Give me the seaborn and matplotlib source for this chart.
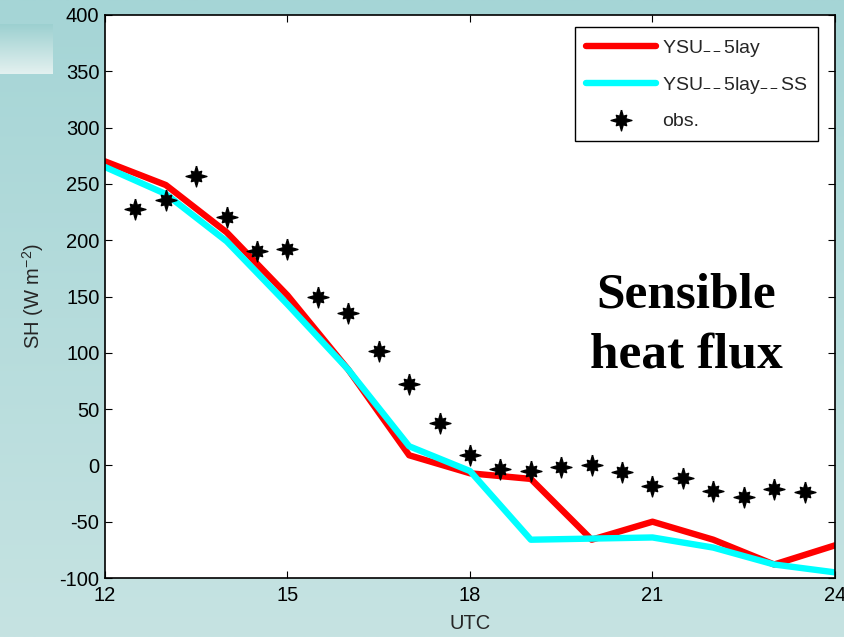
import numpy as np
import pandas as pd
import matplotlib
matplotlib.use("Agg")
import matplotlib.pyplot as plt
import seaborn as sns

# Model output (hourly) and observations (half-hourly), sensible heat flux in W m-2
model_hours = [12, 13, 14, 15, 16, 17, 18, 19, 20, 21, 22, 23, 24]
ysu_5lay = [270, 249, 207, 151, 85, 9, -7, -12, -66, -50, -66, -88, -71]
ysu_5lay_ss = [265, 241, 199, 143, 85, 17, -5, -66, -65, -64, -73, -88, -95]

obs_hours = [12.5, 13, 13.5, 14, 14.5, 15, 15.5, 16, 16.5, 17, 17.5, 18,
             18.5, 19, 19.5, 20, 20.5, 21, 21.5, 22, 22.5, 23, 23.5]
obs_sh = [228, 236, 257, 221, 190, 192, 150, 135, 102, 72, 38, 9,
          -3, -5, -1, 0, -6, -18, -11, -23, -28, -21, -24]

x_ticks = [12, 15, 18, 21, 24]
y_ticks = [-100, -50, 0, 50, 100, 150, 200, 250, 300, 350, 400]

sns.set_style("ticks")
plt.rcParams["font.family"] = ["Liberation Sans", "DejaVu Sans"]
plt.rcParams["axes.unicode_minus"] = False
plt.rcParams["mathtext.fontset"] = "custom"
plt.rcParams["mathtext.rm"] = "Liberation Sans"
plt.rcParams["mathtext.it"] = "Liberation Sans:italic"
plt.rcParams["mathtext.bf"] = "Liberation Sans:bold"

fig = plt.figure(figsize=(8.45, 6.37), dpi=100)

# slide background: vertical teal gradient
bg = fig.add_axes([0, 0, 1, 1], zorder=0)
top_c = np.array([0xA5, 0xD5, 0xD6]) / 255
bot_c = np.array([0xC6, 0xE3, 0xE2]) / 255
t = np.linspace(0, 1, 256)[:, None]
grad = top_c[None, :] * (1 - t) + bot_c[None, :] * t
bg.imshow(grad[:, None, :], aspect="auto", extent=[0, 845, 637, 0])
# small decorative panel in the upper-left corner
p_top = np.array([0x9C, 0xD0, 0xD0]) / 255
p_bot = np.array([0xE4, 0xF1, 0xF0]) / 255
pg = p_top[None, :] * (1 - t) + p_bot[None, :] * t
bg.imshow(pg[:, None, :], aspect="auto", extent=[0, 53, 74, 24])
bg.set_xlim(0, 845)
bg.set_ylim(637, 0)
bg.axis("off")

ax = fig.add_axes([105 / 845, 59 / 637, 730 / 845, 563 / 637], zorder=1)
ax.set_facecolor("white")

# heavy asterisk marker: long horizontal/vertical arms, shorter diagonals
star_verts = []
for k in range(16):
    ang = np.pi / 2 - k * np.pi / 8
    if k % 4 == 0:
        r = 1.0
    elif k % 2 == 0:
        r = 0.7
    else:
        r = 0.44
    star_verts.append((r * np.cos(ang), r * np.sin(ang)))
star_verts.append(star_verts[0])

model_df = pd.DataFrame({"UTC": model_hours, "a": ysu_5lay, "b": ysu_5lay_ss})
obs_df = pd.DataFrame({"UTC": obs_hours, "SH": obs_sh})

sns.lineplot(data=model_df, x="UTC", y="a", ax=ax, color="#FF0000",
             linewidth=4.6, label=r"YSU$_{--}$5lay")
sns.lineplot(data=model_df, x="UTC", y="b", ax=ax, color="#00FFFF",
             linewidth=4.6, label=r"YSU$_{--}$5lay$_{--}$SS")
sns.lineplot(data=obs_df, x="UTC", y="SH", ax=ax, color="black",
             linestyle="", marker=star_verts, markersize=15,
             markeredgewidth=1.0, markeredgecolor="black",
             markerfacecolor="black", label="obs.")

ax.set_xlim(12, 24)
ax.set_ylim(-100, 400)
ax.set_xticks(x_ticks)
ax.set_yticks(y_ticks)
ax.tick_params(direction="in", length=5, width=0.8, top=True, right=True,
               labelsize=14.5, colors="black")
ax.tick_params(axis="x", pad=6)
ax.tick_params(axis="y", pad=4)
for s in ax.spines.values():
    s.set_visible(True)
    s.set_color("black")
    s.set_linewidth(1.2)

ax.set_xlabel("UTC", fontsize=14.5, labelpad=6)
ax.set_ylabel(r"SH (W m$^{-2}$)", fontsize=14.5, labelpad=10)

leg = ax.legend(loc="upper right", bbox_to_anchor=(0.9767, 0.9787),
                fontsize=14, frameon=True, fancybox=False, framealpha=1,
                edgecolor="black", handlelength=3.6, handletextpad=0.3,
                labelspacing=0.85, borderpad=0.55, borderaxespad=0)
leg.get_frame().set_linewidth(1.0)

ax.text(0.796, 0.448, "Sensible\nheat flux", transform=ax.transAxes,
        ha="center", va="center", fontsize=37, fontweight="bold",
        family=["Liberation Serif"], color="black", linespacing=1.4)

fig.savefig("out.png", dpi=100)
